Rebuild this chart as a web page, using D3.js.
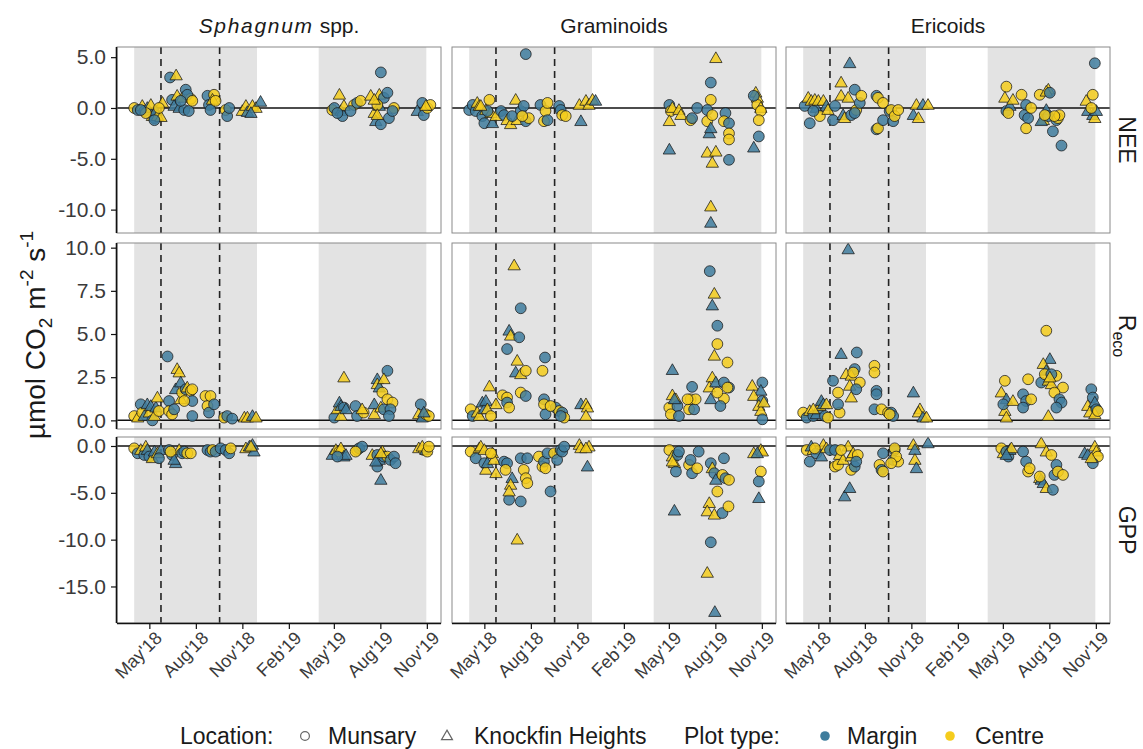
<!DOCTYPE html>
<html>
<head>
<meta charset="utf-8">
<script src="https://cdn.jsdelivr.net/npm/d3@7"></script>
<style>
  body { margin: 0; background: #fff; }
  svg { display: block; }
  text { font-family: "Liberation Sans", Arial, sans-serif; }
</style>
</head>
<body>
<svg id="chart" width="1143" height="749"></svg>
<script>
// ---- facets ----
const groups = ["Sphagnum spp.", "Graminoids", "Ericoids"];
const fluxes = ["NEE", "Reco", "GPP"];

// ---- legend categories ----
const locations = [["M", "Munsary"], ["K", "Knockfin Heights"]];
const plotTypes = [["m", "Margin"], ["c", "Centre"]];

// ---- time axis ----
const xTickDates = ["2018-05-01", "2018-08-01", "2018-11-01", "2019-02-01", "2019-05-01", "2019-08-01", "2019-11-01"];
const xDomainDates = ["2018-02-26", "2019-11-29"];
const growingSeasons = [["2018-04-01", "2018-11-30"], ["2019-04-01", "2019-10-31"]];
const treatmentDates = ["2018-05-24", "2018-09-17"];

// ---- y axes per flux ----
const neeTicks = [5, 0, -5, -10];
const recoTicks = [10, 7.5, 5, 2.5, 0];
const gppTicks = [0, -5, -10, -15];
const neeDomain = [-12.3, 6.0];
const recoDomain = [-0.5, 10.27];
const gppDomain = [-18.9, 0.96];

// ---- observations: [date, flux (umol CO2 m-2 s-1), location M/K, plot type m/c] ----
const sphagnumNEE = [
  ["2018-04-01",0.0,"M","c"],["2018-04-08",-0.2,"M","m"],["2018-04-17",0.2,"K","c"],["2018-04-21",-0.3,"M","m"],
  ["2018-04-27",0.0,"K","m"],["2018-05-04",0.3,"K","c"],["2018-05-07",-0.8,"K","c"],["2018-05-11",-1.0,"M","m"],
  ["2018-05-14",-0.3,"K","m"],["2018-05-17",-0.8,"K","c"],["2018-05-24",-0.9,"K","c"],["2018-05-27",0.5,"K","c"],
  ["2018-05-20",0.0,"M","c"],["2018-04-24",-0.5,"M","c"],["2018-04-14",-0.2,"M","m"],["2018-05-11",-1.2,"M","m"],
  ["2018-06-11",3.0,"M","m"],["2018-06-23",3.2,"K","c"],["2018-06-15",0.8,"M","m"],["2018-06-25",1.2,"K","c"],
  ["2018-07-05",1.0,"K","c"],["2018-07-12",1.8,"M","m"],["2018-07-22",0.9,"M","c"],["2018-07-15",1.3,"M","m"],
  ["2018-06-19",0.2,"K","m"],["2018-06-29",0.0,"K","m"],["2018-07-09",-0.2,"M","m"],["2018-07-18",-0.3,"M","m"],
  ["2018-07-25",0.7,"M","c"],["2018-07-02",0.7,"M","m"],["2018-08-24",1.2,"M","m"],["2018-08-27",0.3,"M","m"],
  ["2018-08-30",-0.2,"M","m"],["2018-09-06",1.3,"M","c"],["2018-09-03",0.8,"K","c"],["2018-09-09",0.7,"M","c"],
  ["2018-09-29",-0.2,"M","c"],["2018-10-02",-0.8,"M","m"],["2018-10-06",0.0,"M","m"],["2018-11-01",-0.3,"K","c"],
  ["2018-11-08",0.2,"K","c"],["2018-11-11",-0.4,"K","m"],["2018-11-21",0.2,"K","c"],["2018-11-28",0.0,"K","c"],
  ["2018-12-07",0.6,"K","m"],["2018-11-18",-0.5,"K","m"],
  ["2019-04-28",-0.2,"M","c"],["2019-05-02",0.0,"M","m"],["2019-05-12",1.3,"K","c"],["2019-05-15",-0.3,"K","m"],
  ["2019-05-18",-0.8,"M","m"],["2019-05-21",0.2,"K","c"],["2019-05-08",-0.5,"M","m"],["2019-06-10",0.3,"M","c"],
  ["2019-06-16",0.5,"M","m"],["2019-06-23",0.7,"M","c"],["2019-06-03",-0.3,"M","m"],["2019-08-02",3.5,"M","m"],
  ["2019-07-13",1.2,"K","c"],["2019-07-20",-0.5,"K","c"],["2019-07-23",-1.3,"K","m"],["2019-07-30",1.3,"K","c"],
  ["2019-07-30",0.2,"K","m"],["2019-08-02",-1.6,"M","m"],["2019-08-08",1.0,"M","m"],["2019-08-15",1.5,"M","m"],
  ["2019-08-18",-1.0,"M","m"],["2019-08-28",0.0,"M","c"],["2019-08-25",-0.3,"M","m"],["2019-07-26",0.3,"M","c"],
  ["2019-07-20",0.8,"K","c"],["2019-07-26",-0.7,"K","c"],["2019-10-13",-0.3,"K","m"],["2019-10-23",0.5,"M","m"],
  ["2019-10-26",-0.7,"M","m"],["2019-11-02",0.0,"M","c"],["2019-11-08",0.3,"M","c"],["2019-10-30",0.2,"K","c"]
];
const graminoidsNEE = [
  ["2018-04-01",-0.2,"M","m"],["2018-04-08",0.3,"M","m"],["2018-04-14",-0.3,"M","m"],["2018-04-17",0.5,"K","c"],
  ["2018-04-21",0.2,"K","c"],["2018-04-27",-0.8,"M","m"],["2018-05-01",-1.5,"M","m"],["2018-05-04",-0.2,"K","c"],
  ["2018-05-11",0.8,"M","c"],["2018-05-14",-0.5,"K","c"],["2018-05-17",-1.5,"K","m"],["2018-05-24",-0.8,"K","c"],
  ["2018-05-07",-0.3,"M","m"],["2018-04-24",0.2,"K","c"],["2018-07-22",5.3,"M","m"],["2018-06-03",-0.3,"M","m"],
  ["2018-06-09",-0.7,"M","m"],["2018-06-15",-1.2,"K","c"],["2018-06-22",-1.6,"K","c"],["2018-07-02",0.8,"K","c"],
  ["2018-07-05",-1.2,"K","c"],["2018-07-12",-0.3,"M","m"],["2018-07-18",0.2,"M","m"],["2018-07-22",-1.3,"M","m"],
  ["2018-07-28",-1.0,"M","c"],["2018-06-25",-0.8,"M","m"],["2018-07-15",-0.8,"M","c"],["2018-08-20",0.3,"M","m"],
  ["2018-08-27",-1.3,"M","c"],["2018-08-30",-0.3,"M","c"],["2018-09-03",0.5,"M","c"],["2018-09-03",-1.2,"M","m"],
  ["2018-09-26",0.2,"M","m"],["2018-09-29",-0.2,"M","m"],["2018-10-02",-0.7,"M","c"],["2018-10-09",-0.8,"M","c"],
  ["2018-11-05",0.3,"K","c"],["2018-11-08",-1.3,"K","m"],["2018-11-18",0.7,"K","c"],["2018-11-24",0.3,"K","c"],
  ["2018-12-01",0.8,"K","c"],["2018-12-07",0.7,"K","m"],
  ["2019-05-02",0.3,"M","m"],["2019-05-05",-0.3,"M","c"],["2019-05-02",-1.3,"K","c"],["2019-05-02",-4.1,"K","m"],
  ["2019-05-08",0.0,"K","c"],["2019-05-21",-0.2,"K","c"],["2019-05-25",-0.7,"K","c"],["2019-06-13",-1.2,"M","c"],
  ["2019-06-16",-1.0,"M","m"],["2019-06-26",0.0,"M","m"],["2019-07-23",0.8,"M","c"],["2019-07-23",2.5,"M","m"],
  ["2019-08-02",4.9,"K","c"],["2019-07-16",-0.2,"M","m"],["2019-07-16",-1.3,"M","c"],["2019-07-26",-0.7,"M","c"],
  ["2019-07-20",-2.5,"K","m"],["2019-07-23",-2.0,"K","m"],["2019-08-21",-0.5,"M","m"],["2019-08-18",-1.3,"M","c"],
  ["2019-08-28",-1.5,"M","m"],["2019-08-28",-2.5,"M","c"],["2019-08-28",-3.1,"M","c"],["2019-07-16",-4.4,"K","c"],
  ["2019-08-02",-4.3,"K","c"],["2019-07-26",-5.4,"K","c"],["2019-08-28",-5.1,"M","m"],["2019-07-23",-9.7,"K","c"],
  ["2019-07-23",-11.3,"K","m"],["2019-10-20",1.5,"K","c"],["2019-10-23",1.0,"K","c"],["2019-10-23",0.3,"M","c"],
  ["2019-10-30",0.0,"K","c"],["2019-10-30",-0.3,"M","c"],["2019-10-26",-1.2,"M","c"],["2019-10-26",-2.8,"M","m"],
  ["2019-10-16",-3.9,"K","m"],["2019-10-16",1.2,"M","m"]
];
const ericoidsNEE = [
  ["2018-04-04",0.2,"M","m"],["2018-04-11",1.0,"K","c"],["2018-04-14",-1.5,"M","m"],["2018-04-17",0.7,"K","c"],
  ["2018-04-24",0.8,"K","c"],["2018-04-27",0.0,"K","m"],["2018-05-01",0.7,"K","c"],["2018-05-04",-0.8,"M","c"],
  ["2018-05-11",0.7,"K","c"],["2018-05-17",0.2,"K","m"],["2018-05-20",-0.2,"K","c"],["2018-05-30",-1.2,"M","m"],
  ["2018-06-03",0.2,"M","m"],["2018-04-21",-0.3,"M","m"],["2018-07-02",4.4,"K","m"],["2018-06-15",2.5,"K","c"],
  ["2018-06-15",1.2,"K","c"],["2018-06-19",-0.7,"K","m"],["2018-06-22",-1.0,"K","c"],["2018-06-29",1.0,"K","c"],
  ["2018-07-05",-0.7,"M","m"],["2018-07-12",1.8,"M","m"],["2018-07-15",-0.2,"M","c"],["2018-07-22",0.5,"M","m"],
  ["2018-07-25",1.2,"M","c"],["2018-07-12",-0.5,"M","m"],["2018-08-24",1.2,"M","m"],["2018-08-27",1.0,"M","c"],
  ["2018-09-06",0.5,"M","c"],["2018-08-24",-2.1,"M","m"],["2018-08-27",-2.0,"M","c"],["2018-09-06",-1.2,"M","m"],
  ["2018-09-19",-0.3,"M","m"],["2018-09-22",-0.2,"M","c"],["2018-09-26",-1.3,"M","m"],["2018-09-29",-0.8,"M","c"],
  ["2018-10-06",-0.2,"M","c"],["2018-11-05",-0.7,"K","m"],["2018-11-11",0.3,"K","c"],["2018-11-15",-1.0,"K","c"],
  ["2018-11-24",0.3,"K","m"],["2018-12-04",0.3,"K","c"],
  ["2019-05-08",2.1,"M","c"],["2019-05-05",1.0,"K","c"],["2019-05-08",-0.3,"M","m"],["2019-05-15",0.2,"K","m"],
  ["2019-05-21",0.8,"K","c"],["2019-05-12",-0.5,"M","c"],["2019-06-07",1.3,"M","c"],["2019-06-16",0.3,"M","m"],
  ["2019-06-13",-0.7,"M","m"],["2019-06-20",-1.0,"M","m"],["2019-06-16",-2.0,"M","c"],["2019-06-26",0.0,"M","c"],
  ["2019-07-13",1.3,"M","c"],["2019-07-30",1.8,"K","c"],["2019-07-26",1.6,"K","c"],["2019-07-26",-0.2,"K","m"],
  ["2019-07-20",-1.2,"K","c"],["2019-07-16",-1.3,"K","m"],["2019-07-30",-0.8,"M","m"],["2019-08-08",-2.3,"M","m"],
  ["2019-08-15",-1.2,"M","m"],["2019-08-18",-1.0,"M","c"],["2019-08-21",-0.7,"M","c"],["2019-08-25",-3.7,"M","m"],
  ["2019-08-11",-0.8,"M","c"],["2019-07-23",-0.7,"M","c"],["2019-08-02",1.5,"M","m"],["2019-10-13",0.7,"K","c"],
  ["2019-10-26",1.3,"M","c"],["2019-10-30",4.4,"M","m"],["2019-10-16",-0.3,"K","m"],["2019-10-26",-0.7,"K","m"],
  ["2019-10-30",-1.0,"K","c"],["2019-11-02",-0.3,"K","m"],["2019-10-23",0.0,"M","c"]
];
const sphagnumReco = [
  ["2018-04-01",0.25,"M","c"],["2018-04-08",0.16,"K","c"],["2018-04-14",0.93,"M","m"],["2018-04-17",0.45,"M","c"],
  ["2018-04-21",0.25,"K","m"],["2018-04-27",0.93,"K","m"],["2018-05-01",0.45,"K","c"],["2018-05-04",0.83,"K","m"],
  ["2018-05-07",0.0,"M","m"],["2018-05-11",0.25,"K","c"],["2018-05-14",0.74,"K","m"],["2018-05-17",1.32,"K","c"],
  ["2018-05-20",0.54,"M","c"],["2018-06-06",3.70,"M","m"],["2018-06-09",1.12,"M","m"],["2018-06-09",0.54,"M","c"],
  ["2018-06-15",0.35,"M","c"],["2018-06-19",0.64,"M","m"],["2018-06-25",2.97,"K","c"],["2018-06-29",2.77,"K","c"],
  ["2018-06-22",1.80,"K","m"],["2018-07-02",2.19,"K","m"],["2018-07-02",1.22,"K","c"],["2018-07-05",1.61,"M","c"],
  ["2018-07-12",1.80,"M","m"],["2018-07-15",1.90,"K","c"],["2018-07-22",1.71,"M","c"],["2018-07-25",1.80,"M","c"],
  ["2018-07-25",1.12,"M","m"],["2018-07-25",0.25,"M","m"],["2018-07-09",1.12,"M","c"],["2018-08-20",1.41,"M","c"],
  ["2018-08-24",0.83,"M","c"],["2018-08-27",0.45,"M","m"],["2018-08-30",1.41,"M","c"],["2018-09-06",0.93,"M","m"],
  ["2018-09-26",0.16,"M","c"],["2018-10-02",0.25,"M","m"],["2018-10-12",0.10,"M","m"],["2018-11-05",0.16,"K","c"],
  ["2018-11-11",0.16,"K","c"],["2018-11-21",0.25,"K","m"],["2018-11-28",0.16,"K","c"],
  ["2019-05-02",0.16,"M","m"],["2019-05-08",0.64,"K","c"],["2019-05-12",1.03,"K","m"],["2019-05-15",0.83,"K","m"],
  ["2019-05-21",2.48,"K","c"],["2019-05-21",0.74,"M","m"],["2019-05-15",0.25,"K","c"],["2019-05-25",0.64,"K","m"],
  ["2019-06-13",0.83,"M","m"],["2019-06-16",0.25,"M","m"],["2019-06-29",0.45,"M","c"],["2019-06-26",0.64,"K","c"],
  ["2019-07-26",2.38,"K","m"],["2019-07-26",2.09,"K","c"],["2019-07-30",1.90,"K","m"],["2019-08-05",1.61,"M","c"],
  ["2019-08-15",2.87,"M","m"],["2019-07-20",0.93,"K","m"],["2019-07-20",0.35,"K","c"],["2019-08-02",0.74,"K","c"],
  ["2019-08-08",0.64,"M","m"],["2019-08-15",1.22,"M","c"],["2019-08-25",1.03,"M","c"],["2019-08-21",0.64,"M","m"],
  ["2019-08-18",0.25,"M","m"],["2019-08-08",2.38,"K","c"],["2019-10-20",0.93,"M","m"],["2019-10-16",0.35,"K","c"],
  ["2019-10-23",0.16,"K","m"],["2019-10-30",0.35,"M","c"],["2019-11-05",0.25,"M","c"],["2019-10-26",0.45,"K","m"]
];
const graminoidsReco = [
  ["2018-04-04",0.64,"M","c"],["2018-04-08",0.25,"M","m"],["2018-04-17",0.45,"K","c"],["2018-04-21",0.25,"K","c"],
  ["2018-04-27",1.03,"K","m"],["2018-05-01",0.64,"K","m"],["2018-05-04",1.12,"K","m"],["2018-05-07",0.64,"K","c"],
  ["2018-05-11",1.96,"K","c"],["2018-05-14",0.25,"M","c"],["2018-05-24",0.93,"K","c"],["2018-06-29",8.97,"K","c"],
  ["2018-07-12",6.49,"M","m"],["2018-06-19",5.19,"K","m"],["2018-06-22",4.90,"K","c"],["2018-07-09",4.81,"M","m"],
  ["2018-06-15",4.13,"M","m"],["2018-07-05",3.45,"K","c"],["2018-07-02",2.77,"K","m"],["2018-07-12",2.67,"K","c"],
  ["2018-07-22",2.87,"M","c"],["2018-06-06",1.45,"M","c"],["2018-06-15",1.32,"M","c"],["2018-06-15",1.03,"M","m"],
  ["2018-06-19",0.74,"M","c"],["2018-07-12",1.61,"M","c"],["2018-07-22",1.41,"M","m"],["2018-08-29",3.64,"M","m"],
  ["2018-08-24",2.87,"M","c"],["2018-08-27",1.22,"M","m"],["2018-08-27",0.93,"M","c"],["2018-08-30",0.35,"M","m"],
  ["2018-09-19",0.74,"M","m"],["2018-09-26",0.54,"M","c"],["2018-10-02",0.45,"M","m"],["2018-10-06",0.16,"M","c"],
  ["2018-09-29",0.25,"M","m"],["2018-09-09",0.83,"M","c"],["2018-11-08",0.93,"K","m"],["2018-11-18",0.93,"K","c"],
  ["2018-11-21",0.74,"K","c"],["2018-11-18",0.25,"K","c"],
  ["2019-05-08",2.91,"K","m"],["2019-05-08",1.45,"K","c"],["2019-05-02",0.74,"M","c"],["2019-05-05",0.35,"M","c"],
  ["2019-05-15",1.22,"K","c"],["2019-05-18",0.83,"M","m"],["2019-05-12",1.22,"K","m"],["2019-05-21",0.25,"M","m"],
  ["2019-06-10",0.64,"M","c"],["2019-06-16",1.94,"M","m"],["2019-06-13",1.22,"M","c"],["2019-06-20",0.64,"M","m"],
  ["2019-06-23",1.22,"M","c"],["2019-06-07",1.22,"M","c"],["2019-07-21",8.64,"M","m"],["2019-07-30",7.33,"K","c"],
  ["2019-07-26",6.65,"K","m"],["2019-08-05",5.48,"M","m"],["2019-08-05",4.42,"M","c"],["2019-07-30",3.74,"K","c"],
  ["2019-08-25",3.35,"M","c"],["2019-07-26",2.48,"K","c"],["2019-07-20",1.90,"K","c"],["2019-08-02",2.19,"K","m"],
  ["2019-07-23",1.22,"K","m"],["2019-08-18",2.19,"M","m"],["2019-08-28",1.90,"M","m"],["2019-08-18",1.26,"M","c"],
  ["2019-08-11",0.83,"M","m"],["2019-08-05",1.61,"M","c"],["2019-08-25",1.90,"M","c"],["2019-10-13",2.00,"K","c"],
  ["2019-11-02",2.19,"M","m"],["2019-10-30",1.71,"K","m"],["2019-10-16",1.41,"K","c"],["2019-11-02",1.12,"M","m"],
  ["2019-10-26",0.83,"K","c"],["2019-10-30",0.54,"K","c"],["2019-11-02",0.06,"M","m"],["2019-11-05",1.03,"K","c"]
];
const ericoidsReco = [
  ["2018-04-01",0.45,"M","c"],["2018-04-08",0.16,"M","m"],["2018-04-14",0.54,"K","c"],["2018-04-21",0.25,"M","m"],
  ["2018-04-27",0.35,"K","m"],["2018-05-01",0.64,"K","m"],["2018-05-04",0.83,"K","c"],["2018-05-07",1.12,"K","m"],
  ["2018-05-11",0.93,"K","m"],["2018-05-14",0.25,"M","m"],["2018-05-17",0.93,"K","c"],["2018-05-20",0.16,"M","c"],
  ["2018-04-21",0.64,"K","c"],["2018-06-29",9.90,"K","m"],["2018-06-15",3.84,"K","m"],["2018-07-16",3.93,"M","m"],
  ["2018-05-30",2.29,"M","m"],["2018-06-25",2.67,"K","c"],["2018-07-12",2.97,"M","m"],["2018-07-05",2.58,"K","c"],
  ["2018-07-09",2.77,"M","c"],["2018-07-22",2.19,"M","c"],["2018-07-02",2.00,"K","c"],["2018-07-05",1.32,"K","c"],
  ["2018-06-09",1.61,"M","c"],["2018-06-12",0.45,"M","c"],["2018-06-09",0.93,"M","m"],["2018-07-15",1.80,"M","m"],
  ["2018-08-20",3.16,"M","c"],["2018-08-20",2.77,"M","c"],["2018-08-24",1.71,"M","m"],["2018-08-24",1.51,"M","m"],
  ["2018-08-20",0.64,"M","m"],["2018-09-03",0.64,"M","c"],["2018-09-16",0.45,"M","c"],["2018-09-22",0.45,"M","m"],
  ["2018-09-26",0.25,"M","m"],["2018-09-19",0.35,"M","c"],["2018-11-05",1.61,"K","m"],["2018-11-18",0.64,"K","c"],
  ["2018-11-15",0.45,"K","c"],["2018-11-24",0.16,"K","m"],["2018-12-01",0.16,"K","c"],
  ["2019-05-05",2.29,"M","c"],["2019-04-28",1.61,"K","c"],["2019-05-08",1.22,"K","m"],["2019-05-05",0.54,"K","c"],
  ["2019-05-08",0.16,"K","c"],["2019-05-02",0.93,"M","m"],["2019-05-21",1.12,"K","c"],["2019-06-10",1.51,"M","m"],
  ["2019-06-20",2.38,"M","c"],["2019-06-16",1.12,"M","m"],["2019-06-26",1.22,"M","c"],["2019-06-10",0.74,"M","m"],
  ["2019-07-26",5.19,"M","c"],["2019-08-02",3.55,"K","m"],["2019-07-20",3.26,"K","c"],["2019-07-26",2.87,"K","m"],
  ["2019-07-16",2.19,"M","m"],["2019-07-23",2.67,"M","c"],["2019-07-30",2.29,"K","c"],["2019-08-05",2.09,"K","c"],
  ["2019-08-15",2.58,"M","c"],["2019-08-05",2.67,"M","m"],["2019-08-28",1.90,"M","c"],["2019-08-11",1.61,"M","c"],
  ["2019-08-21",1.22,"M","m"],["2019-08-25",1.03,"M","m"],["2019-08-15",0.74,"M","m"],["2019-07-30",0.25,"K","c"],
  ["2019-08-02",2.48,"K","c"],["2019-10-23",1.80,"M","m"],["2019-10-26",1.32,"M","m"],["2019-10-16",0.83,"K","c"],
  ["2019-10-20",0.45,"K","c"],["2019-10-30",1.03,"K","m"],["2019-11-02",0.64,"M","m"],["2019-10-30",0.35,"K","c"],
  ["2019-11-05",0.54,"M","c"]
];
const sphagnumGPP = [
  ["2018-04-01",-0.25,"M","c"],["2018-04-08",-0.78,"M","m"],["2018-04-14",-0.43,"K","c"],["2018-04-21",-0.96,"M","m"],
  ["2018-04-24",-0.07,"K","c"],["2018-04-27",-0.43,"K","m"],["2018-05-01",-1.13,"M","m"],["2018-05-07",-1.31,"K","c"],
  ["2018-05-11",-0.60,"K","m"],["2018-05-17",-0.78,"K","c"],["2018-05-24",-0.43,"K","m"],["2018-05-20",-1.31,"M","m"],
  ["2018-06-09",-0.43,"M","m"],["2018-06-15",-0.96,"M","m"],["2018-06-22",-1.84,"K","m"],["2018-06-19",-1.49,"K","m"],
  ["2018-06-29",-0.43,"K","c"],["2018-07-05",-0.78,"M","m"],["2018-07-09",-0.60,"M","m"],["2018-07-15",-0.78,"M","c"],
  ["2018-07-22",-0.78,"M","c"],["2018-06-12",-0.60,"M","c"],["2018-08-24",-0.43,"M","m"],["2018-08-30",-0.60,"M","m"],
  ["2018-09-03",-0.43,"M","c"],["2018-09-09",-0.60,"M","m"],["2018-09-19",-0.25,"M","m"],["2018-09-29",-0.43,"M","m"],
  ["2018-10-06",-0.78,"M","m"],["2018-10-09",-0.25,"M","c"],["2018-11-08",-0.25,"K","c"],["2018-11-15",-0.07,"K","m"],
  ["2018-11-21",0.11,"K","m"],["2018-11-24",-0.60,"K","m"],["2018-11-18",-0.07,"K","c"],
  ["2019-04-28",-0.96,"K","m"],["2019-05-05",-0.43,"K","c"],["2019-05-12",-0.60,"M","c"],["2019-05-15",-0.25,"K","c"],
  ["2019-05-21",-1.13,"K","m"],["2019-05-25",-0.96,"K","m"],["2019-05-08",-1.13,"M","m"],["2019-06-16",-0.43,"M","c"],
  ["2019-06-20",-0.25,"M","m"],["2019-06-26",-0.07,"M","m"],["2019-06-13",-0.60,"M","c"],["2019-07-16",-0.96,"K","c"],
  ["2019-07-26",-0.96,"M","m"],["2019-07-26",-2.20,"M","m"],["2019-08-02",-3.62,"K","m"],["2019-07-30",-1.49,"K","m"],
  ["2019-08-05",-0.60,"K","c"],["2019-08-08",-1.13,"M","m"],["2019-08-15",-1.13,"M","c"],["2019-08-21",-1.49,"M","m"],
  ["2019-08-28",-1.13,"M","m"],["2019-08-31",-1.84,"M","m"],["2019-07-23",-1.67,"K","m"],["2019-08-02",-0.78,"K","c"],
  ["2019-10-16",-0.25,"K","c"],["2019-10-26",-0.43,"M","c"],["2019-10-30",-0.43,"K","m"],["2019-10-23",-0.07,"K","c"],
  ["2019-11-02",-0.60,"M","c"],["2019-11-05",-0.07,"M","c"]
];
const graminoidsGPP = [
  ["2018-04-04",-0.60,"M","c"],["2018-04-14",-1.31,"M","m"],["2018-04-21",-0.25,"K","c"],["2018-04-24",-0.07,"K","c"],
  ["2018-05-01",-0.43,"K","c"],["2018-05-01",-1.84,"M","m"],["2018-05-04",-2.55,"K","c"],["2018-05-07",-1.84,"K","m"],
  ["2018-05-17",-0.78,"K","c"],["2018-05-20",-1.49,"K","c"],["2018-05-24",-2.91,"K","c"],["2018-05-14",-0.78,"M","c"],
  ["2018-06-09",-1.67,"M","m"],["2018-06-15",-1.84,"M","m"],["2018-06-12",-2.55,"M","c"],["2018-06-19",-5.74,"M","m"],
  ["2018-06-25",-3.44,"K","m"],["2018-06-22",-4.15,"K","c"],["2018-06-19",-4.86,"K","c"],["2018-07-05",-10.0,"K","c"],
  ["2018-07-12",-5.92,"M","m"],["2018-07-12",-1.31,"M","m"],["2018-07-18",-2.55,"M","c"],["2018-07-22",-3.44,"M","c"],
  ["2018-07-25",-3.97,"M","c"],["2018-07-25",-1.31,"M","m"],["2018-08-17",-1.13,"M","c"],["2018-08-24",-2.20,"M","c"],
  ["2018-08-27",-1.67,"M","m"],["2018-08-30",-2.38,"M","c"],["2018-09-03",-0.78,"M","m"],["2018-09-09",-4.86,"M","m"],
  ["2018-09-16",-0.78,"M","c"],["2018-09-22",-1.49,"M","m"],["2018-09-29",-0.43,"M","m"],["2018-10-02",-0.60,"M","m"],
  ["2018-10-06",-0.07,"M","m"],["2018-11-05",0.11,"K","c"],["2018-11-08",-0.25,"K","c"],["2018-11-21",-2.20,"K","m"],
  ["2018-11-24",-0.07,"K","c"],["2018-11-18",-0.25,"K","c"],
  ["2019-05-02",-0.43,"M","c"],["2019-05-08",-1.13,"K","c"],["2019-05-12",-1.84,"K","c"],["2019-05-15",-2.73,"M","m"],
  ["2019-05-18",-0.96,"M","m"],["2019-05-21",-0.60,"M","m"],["2019-05-12",-6.91,"K","m"],["2019-05-08",-1.67,"K","c"],
  ["2019-06-10",-2.02,"M","c"],["2019-06-13",-1.49,"M","m"],["2019-06-16",-2.91,"M","m"],["2019-06-26",-2.38,"M","c"],
  ["2019-06-29",-0.60,"M","m"],["2019-07-23",-1.84,"M","m"],["2019-07-26",-2.38,"K","c"],["2019-07-30",-2.91,"M","m"],
  ["2019-08-02",-3.62,"K","m"],["2019-08-18",-1.31,"M","m"],["2019-08-15",-3.09,"M","c"],["2019-08-21",-3.44,"M","m"],
  ["2019-08-28",-3.62,"M","c"],["2019-08-05",-4.86,"M","c"],["2019-07-20",-6.10,"K","c"],["2019-07-16",-6.99,"K","c"],
  ["2019-07-30",-7.34,"K","c"],["2019-08-15",-7.16,"M","m"],["2019-08-27",-6.45,"M","c"],["2019-07-23",-10.28,"M","m"],
  ["2019-07-16",-13.55,"K","c"],["2019-07-31",-17.73,"K","m"],["2019-10-16",-0.78,"K","c"],["2019-10-30",-0.43,"K","c"],
  ["2019-11-02",-0.60,"K","c"],["2019-10-30",-2.73,"M","c"],["2019-10-26",-3.79,"M","m"],["2019-10-26",-5.57,"K","m"],
  ["2019-10-23",-0.78,"K","m"]
];
const ericoidsGPP = [
  ["2018-04-08",-0.43,"M","c"],["2018-04-14",-1.67,"M","m"],["2018-04-17",-0.07,"K","m"],["2018-04-21",-0.43,"K","c"],
  ["2018-04-27",-0.78,"M","m"],["2018-05-07",-1.13,"K","m"],["2018-05-11",0.11,"K","c"],["2018-05-17",-0.25,"K","c"],
  ["2018-05-24",-0.43,"M","m"],["2018-06-03",-0.43,"M","m"],["2018-04-24",-0.25,"M","c"],["2018-06-03",-2.20,"M","c"],
  ["2018-06-09",-2.02,"M","c"],["2018-06-12",-0.96,"K","c"],["2018-06-19",-1.49,"K","c"],["2018-06-22",-5.39,"K","m"],
  ["2018-07-02",-4.50,"K","m"],["2018-06-29",-0.07,"K","c"],["2018-07-05",-1.13,"K","c"],["2018-07-09",-0.78,"K","c"],
  ["2018-07-05",-2.55,"M","c"],["2018-07-12",-2.20,"M","m"],["2018-07-18",-0.96,"M","c"],["2018-07-15",-1.67,"M","m"],
  ["2018-06-15",-0.43,"M","c"],["2018-08-30",-2.02,"M","c"],["2018-09-03",-2.55,"M","m"],["2018-09-06",-2.73,"M","c"],
  ["2018-09-06",-0.78,"M","m"],["2018-09-26",-1.49,"M","m"],["2018-09-29",-0.43,"M","m"],["2018-09-29",-0.25,"M","c"],
  ["2018-10-06",-1.67,"M","c"],["2018-10-02",-1.13,"M","c"],["2018-09-22",-1.84,"M","c"],["2018-11-05",0.11,"K","c"],
  ["2018-11-08",-0.43,"K","m"],["2018-11-08",-1.49,"K","c"],["2018-11-11",-2.38,"K","m"],["2018-12-04",0.28,"K","m"],
  ["2019-04-28",-0.25,"M","c"],["2019-05-02",-0.78,"K","c"],["2019-05-08",-0.60,"M","m"],["2019-05-12",-1.13,"M","m"],
  ["2019-05-15",-0.43,"K","m"],["2019-05-18",-0.25,"K","c"],["2019-05-08",-0.96,"K","m"],["2019-06-10",-0.60,"M","m"],
  ["2019-06-16",-1.67,"M","m"],["2019-06-20",-2.73,"M","c"],["2019-06-23",-2.38,"M","c"],["2019-07-16",0.28,"K","c"],
  ["2019-07-26",-0.60,"K","c"],["2019-08-05",-0.96,"M","c"],["2019-08-15",-2.02,"M","m"],["2019-08-11",-3.09,"M","m"],
  ["2019-08-18",-2.73,"M","c"],["2019-08-28",-3.09,"M","c"],["2019-07-13",-3.44,"K","c"],["2019-07-16",-3.62,"K","m"],
  ["2019-07-20",-3.97,"K","m"],["2019-07-26",-4.50,"K","c"],["2019-08-08",-4.68,"M","m"],["2019-07-13",-3.26,"M","c"],
  ["2019-10-10",-0.78,"K","m"],["2019-10-16",-0.96,"K","m"],["2019-10-30",-0.07,"K","c"],["2019-11-02",-0.60,"K","c"],
  ["2019-11-05",-1.13,"M","c"],["2019-10-26",-1.84,"M","m"],["2019-10-23",-1.31,"K","c"]
];

// ---- panel lookup ----
const panelData = [
  [sphagnumNEE, graminoidsNEE, ericoidsNEE],
  [sphagnumReco, graminoidsReco, ericoidsReco],
  [sphagnumGPP, graminoidsGPP, ericoidsGPP]
];
const rowTicks = [neeTicks, recoTicks, gppTicks];
const rowDomains = [neeDomain, recoDomain, gppDomain];

// ---- layout ----
const colX = [117, 452, 786];
const rowY = [47, 243, 437];
const pw = 324, ph = 186;
const fillColor = { m: "#3f7d9d", c: "#f5cc1c" };
const FONT = "Liberation Sans, Arial, sans-serif";

const parse = d3.utcParse("%Y-%m-%d");
const svg = d3.select("#chart");

const x = d3.scaleUtc().domain(xDomainDates.map(parse)).range([0, pw]);
const yScales = rowDomains.map(dom => d3.scaleLinear().domain(dom).range([ph, 0]));
const yFormat = v => d3.format(".1f")(v).replace("\u2212", "-");

const triangle = d3.symbol().type(d3.symbolTriangle).size(66);

fluxes.forEach((flux, r) => {
  const y = yScales[r];
  groups.forEach((grp, c) => {
    const g = svg.append("g").attr("transform", `translate(${colX[c]},${rowY[r]})`);

    // growing-season bands
    g.selectAll("rect.season").data(growingSeasons).join("rect")
      .attr("class", "season")
      .attr("x", d => x(parse(d[0])))
      .attr("width", d => x(parse(d[1])) - x(parse(d[0])))
      .attr("y", 0).attr("height", ph)
      .attr("fill", "#e3e3e3");

    // treatment dates
    g.selectAll("line.treat").data(treatmentDates).join("line")
      .attr("class", "treat")
      .attr("x1", d => x(parse(d))).attr("x2", d => x(parse(d)))
      .attr("y1", 0).attr("y2", ph)
      .attr("stroke", "#222").attr("stroke-width", 1.6)
      .attr("stroke-dasharray", "7,5");

    // zero line
    g.append("line")
      .attr("x1", 0).attr("x2", pw)
      .attr("y1", y(0)).attr("y2", y(0))
      .attr("stroke", "#111").attr("stroke-width", 1.5);

    // observations
    const pts = panelData[r][c];
    const marks = g.selectAll("g.pt").data(pts).join("g")
      .attr("class", "pt")
      .attr("transform", d => `translate(${x(parse(d[0]))},${y(d[1])})`);
    marks.each(function (d) {
      const sel = d3.select(this);
      const shape = d[2] === "M"
        ? sel.append("circle").attr("r", 5.4)
        : sel.append("path").attr("d", triangle).attr("transform", "translate(0,0.8)");
      shape.attr("fill", fillColor[d[3]])
        .attr("fill-opacity", 0.85)
        .attr("stroke", "#1a1a1a")
        .attr("stroke-opacity", 0.85)
        .attr("stroke-width", 0.9);
    });

    // panel border
    g.append("rect")
      .attr("x", 0).attr("y", 0).attr("width", pw).attr("height", ph)
      .attr("fill", "none").attr("stroke", "#8a8a8a").attr("stroke-width", 1);

    // y axis on the first column
    if (c === 0) {
      const ax = g.append("g").call(
        d3.axisLeft(y).tickValues(rowTicks[r]).tickFormat(yFormat).tickSize(6).tickPadding(5)
      );
      ax.select(".domain").attr("stroke", "#111").attr("stroke-width", 1.6).attr("d", `M-0.5,0V${ph}`);
      ax.selectAll(".tick line").attr("stroke", "#111").attr("stroke-width", 1.2);
      ax.selectAll(".tick text").attr("font-size", 21).attr("fill", "#3a3a3a").attr("font-family", FONT);
    }

    // x axis along the bottom row
    if (r === 2) {
      const ax = g.append("g").attr("transform", `translate(0,${ph})`).call(
        d3.axisBottom(x).tickValues(xTickDates.map(parse)).tickFormat(d3.utcFormat("%b'%y")).tickSize(6).tickPadding(2)
      );
      ax.select(".domain").attr("stroke", "#111").attr("stroke-width", 1.6).attr("d", `M0,0.5H${pw}`);
      ax.selectAll(".tick line").attr("stroke", "#111").attr("stroke-width", 1.2);
      ax.selectAll(".tick text")
        .attr("font-size", 18).attr("fill", "#3a3a3a").attr("font-family", FONT)
        .attr("text-anchor", "end")
        .attr("dy", "0.2em")
        .attr("transform", "translate(5,8) rotate(-45)");
    }
  });
});

// ---- column strip titles ----
groups.forEach((grp, c) => {
  const t = svg.append("text")
    .attr("x", colX[c] + pw / 2).attr("y", 33)
    .attr("text-anchor", "middle").attr("font-size", 21).attr("fill", "#1a1a1a");
  if (grp.startsWith("Sphagnum")) {
    t.append("tspan").attr("font-style", "italic").attr("letter-spacing", 1.7).text("Sphagnum");
    t.append("tspan").text(" spp.");
  } else {
    t.text(grp);
  }
});

// ---- row strip titles ----
fluxes.forEach((flux, r) => {
  const cx = 1127, cy = rowY[r] + ph / 2;
  const t = svg.append("text")
    .attr("transform", `translate(${cx},${cy}) rotate(90)`)
    .attr("text-anchor", "middle").attr("dy", "0.35em")
    .attr("font-size", 23).attr("fill", "#1a1a1a");
  if (flux === "Reco") {
    t.append("tspan").text("R");
    t.append("tspan").attr("font-size", 16).attr("dy", 6).text("eco");
  } else {
    t.text(flux);
  }
});

// ---- y axis title ----
const yt = svg.append("text")
  .attr("transform", `translate(45,${rowY[0] + (rowY[2] + ph - rowY[0]) / 2}) rotate(-90)`)
  .attr("text-anchor", "middle").attr("font-size", 28).attr("fill", "#1a1a1a");
yt.append("tspan").text("µmol CO");
yt.append("tspan").attr("font-size", 19).attr("dy", 7).text("2");
yt.append("tspan").attr("dy", -7).text(" m");
yt.append("tspan").attr("font-size", 19).attr("dy", -12).text("-2");
yt.append("tspan").attr("dy", 12).text(" s");
yt.append("tspan").attr("font-size", 19).attr("dy", -12).text("-1");

// ---- legend ----
const lg = svg.append("g").attr("transform", "translate(0,736)");
const lgText = (xp, s) => lg.append("text").attr("x", xp).attr("y", 0).attr("dy", "0.35em")
  .attr("font-size", 23).attr("fill", "#1a1a1a").text(s);
lgText(180, "Location:");
lg.append("circle").attr("cx", 305).attr("cy", 0).attr("r", 4.4)
  .attr("fill", "none").attr("stroke", "#666").attr("stroke-width", 1.2);
lgText(328, locations[0][1]);
lg.append("path").attr("d", d3.symbol().type(d3.symbolTriangle).size(52)())
  .attr("transform", "translate(447,0.5)")
  .attr("fill", "none").attr("stroke", "#666").attr("stroke-width", 1.2);
lgText(474, locations[1][1]);
lgText(684, "Plot type:");
lg.append("circle").attr("cx", 825).attr("cy", 0).attr("r", 4.8).attr("fill", fillColor[plotTypes[0][0]]);
lgText(847, plotTypes[0][1]);
lg.append("circle").attr("cx", 950).attr("cy", 0).attr("r", 4.8).attr("fill", fillColor[plotTypes[1][0]]);
lgText(975, plotTypes[1][1]);
</script>
</body>
</html>
